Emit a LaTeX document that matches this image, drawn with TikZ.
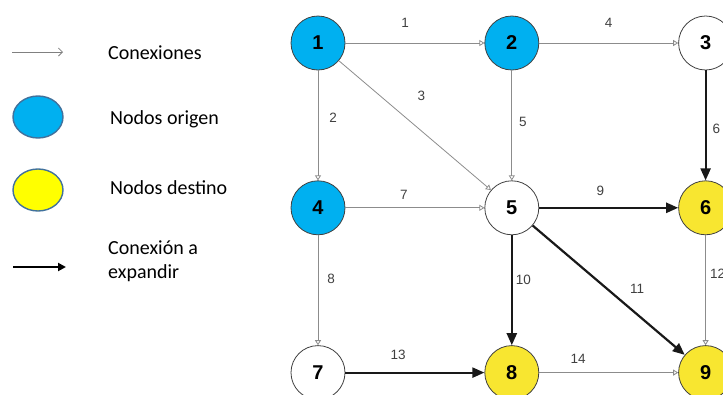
\documentclass[tikz,border=0pt]{standalone}
\usepackage{fontspec}
\setmainfont{Liberation Sans}
\newfontfamily\legendfont{Carlito}
\usetikzlibrary{arrows.meta,positioning,shapes.geometric}

\definecolor{origen}{HTML}{00B0F0}
\definecolor{destino}{HTML}{F8E630}
\definecolor{legyellow}{HTML}{FFFF00}
\definecolor{legborder}{HTML}{41719C}
\definecolor{lblgray}{HTML}{404040}
\definecolor{thingray}{HTML}{8C8C8C}

\begin{document}
\begin{tikzpicture}[
      x=1pt,y=-1pt,
      node distance=110pt and 139pt,
      state/.style={circle,draw=black!75,line width=0.8pt,minimum size=54pt,inner sep=0pt,font=\fontsize{20}{24}\selectfont\bfseries},
      conn/.style={draw=thingray,line width=0.8pt,-{Triangle[open,length=5pt,width=6pt]}},
      expand/.style={draw=black!90,line width=2.2pt,-{Triangle[length=12pt,width=10pt]}},
      lbl/.style={font=\fontsize{13.5}{15}\selectfont,text=lblgray,inner sep=1pt},
      legtext/.style={anchor=west,align=left,inner sep=0pt,font=\legendfont\fontsize{20}{24}\selectfont},
      legnode/.style={ellipse,draw=legborder,line width=1.4pt,minimum width=50pt,minimum height=42pt}
    ]
      \useasboundingbox (0,0) rectangle (723,394);
      \clip (0,0) rectangle (723,394);
      % legend
      \coordinate (thinA) at (12,52);
      \coordinate (thinB) at (63,52);
      \draw[draw=gray,line width=0.8pt,-{Straight Barb[length=4pt,width=8pt]}] (thinA)--(thinB);
      \node[legtext] (conex) at (108,53) {Conexiones};
      \node[legnode,fill=origen] (legorig) at (38,117) {};
      \node[legtext] (orig) at (110,119) {Nodos origen};
      \node[legnode,fill=legyellow] (legdest) at (38,190) {};
      \node[legtext] (dest) at (110,188) {Nodos destino};
      \coordinate (thickA) at (13,267);
      \coordinate (thickB) at (66,267);
      \draw[line width=2.4pt,-{Triangle[length=8pt,width=8pt]}] (thickA)--(thickB);
      \node[legtext] (expd) at (108,261) {Conexión a\\expandir};
      % graph
      \node[state,fill=origen] (n1) at (318,43) {1};
      \node[state,fill=origen,right=of n1] (n2) {2};
      \node[state,right=of n2] (n3) {3};
      \node[state,fill=origen,below=of n1] (n4) {4};
      \node[state,right=of n4] (n5) {5};
      \node[state,fill=destino,right=of n5] (n6) {6};
      \node[state,below=of n4] (n7) {7};
      \node[state,fill=destino,right=of n7] (n8) {8};
      \node[state,fill=destino,right=of n8] (n9) {9};
      \draw[conn] (n1)--node[lbl,above=14pt,pos=.43]{1}(n2);
      \draw[conn] (n1)--node[lbl,right=10pt,pos=.43]{2}(n4);
      \draw[conn] (n1)--node[lbl,above right=14pt and 12pt,pos=.43]{3}(n5);
      \draw[conn] (n2)--node[lbl,above=14pt,pos=.5]{4}(n3);
      \draw[conn] (n2)--node[lbl,right=6pt,pos=.47]{5}(n5);
      \draw[expand] (n3)--node[lbl,right=5pt,pos=.53]{6}(n6);
      \draw[conn] (n4)--node[lbl,above=7pt,pos=.42]{7}(n5);
      \draw[conn] (n4)--node[lbl,right=8pt,pos=.4]{8}(n7);
      \draw[expand] (n5)--node[lbl,above=10pt,pos=.44]{9}(n6);
      \draw[expand] (n5)--node[lbl,right=2pt,pos=.41]{10}(n8);
      \draw[expand] (n5)--node[lbl,above right=8pt and 4pt,pos=.6]{11}(n9);
      \draw[conn] (n6)--node[lbl,right=3pt,pos=.35]{12}(n9);
      \draw[expand] (n7)--node[lbl,above=11pt,pos=.38]{13}(n8);
      \draw[conn] (n8)--node[lbl,above=8pt,pos=.28]{14}(n9);
    \end{tikzpicture}
\end{document}
